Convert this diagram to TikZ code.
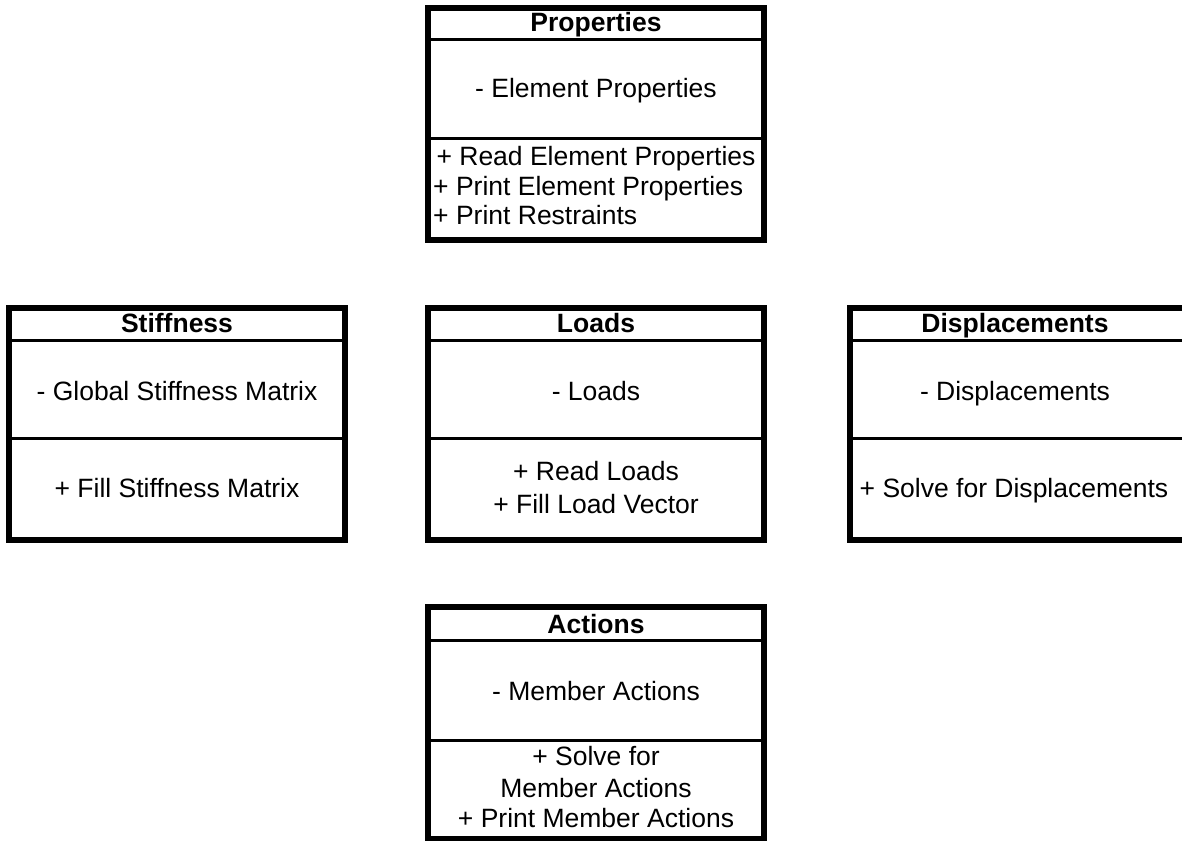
\documentclass[tikz,border=0pt]{standalone}
\usepackage{fontspec}
\setmainfont{Liberation Sans}
\begin{document}
\begin{tikzpicture}[x=1pt,y=-1pt,
  classbox/.style={draw=black,line width=6pt,rectangle,inner sep=0pt,
    minimum width=336pt,minimum height=232pt,fill=white},
  divider/.style={line width=3pt},
  ttl/.style={font=\fontsize{26.5}{31}\selectfont\bfseries,anchor=base,inner sep=0pt},
  txt/.style={font=\fontsize{26.5}{31}\selectfont,anchor=base,inner sep=0pt},
  txtl/.style={font=\fontsize{26.5}{31}\selectfont,anchor=base west,inner sep=0pt}]
\clip (0,0) rectangle (1182,840);
\fill[white] (0,0) rectangle (1182,840);

% Properties
\node[classbox] (prop) at (596,124) {};
\draw[divider] (prop.west |- 0,40) -- (prop.east |- 0,40);
\draw[divider] (prop.west |- 0,138) -- (prop.east |- 0,138);
\node[ttl] (propt) at (596,32) {Properties};
\node[txt] (propa) at (596,98) {- Element Properties};
\node[txt] (propm1) at (596,165) {+ Read Element Properties};
\node[txtl] (propm2) at (433,195) {+ Print Element Properties};
\node[txtl] (propm3) at (433,224) {+ Print Restraints};

% Stiffness
\node[classbox] (stif) at (177,424) {};
\draw[divider] (stif.west |- 0,340.5) -- (stif.east |- 0,340.5);
\draw[divider] (stif.west |- 0,438.5) -- (stif.east |- 0,438.5);
\node[ttl] (stift) at (177,332) {Stiffness};
\node[txt] (stifa) at (177,400) {- Global Stiffness Matrix};
\node[txt] (stifm) at (177,497) {+ Fill Stiffness Matrix};

% Loads
\node[classbox] (load) at (596,424) {};
\draw[divider] (load.west |- 0,340.5) -- (load.east |- 0,340.5);
\draw[divider] (load.west |- 0,438.5) -- (load.east |- 0,438.5);
\node[ttl] (loadt) at (596,332) {Loads};
\node[txt] (loada) at (596,400) {- Loads};
\node[txt] (loadm1) at (596,480) {+ Read Loads};
\node[txt] (loadm2) at (596,513) {+ Fill Load Vector};

% Displacements
\node[classbox] (disp) at (1018,424) {};
\draw[divider] (disp.west |- 0,340.5) -- (disp.east |- 0,340.5);
\draw[divider] (disp.west |- 0,438.5) -- (disp.east |- 0,438.5);
\node[ttl] (dispt) at (1015,332) {Displacements};
\node[txt] (dispa) at (1015,400) {- Displacements};
\node[txt] (dispm) at (1014,497) {+ Solve for Displacements};

% Actions
\node[classbox] (act) at (596,723) {};
\draw[divider] (act.west |- 0,640) -- (act.east |- 0,640);
\draw[divider] (act.west |- 0,740) -- (act.east |- 0,740);
\node[ttl] (actt) at (596,633) {Actions};
\node[txt] (acta) at (596,700) {- Member Actions};
\node[txt] (actm1) at (596,765) {+ Solve for};
\node[txt] (actm2) at (596,797) {Member Actions};
\node[txt] (actm3) at (596,827) {+ Print Member Actions};
\end{tikzpicture}
\end{document}
